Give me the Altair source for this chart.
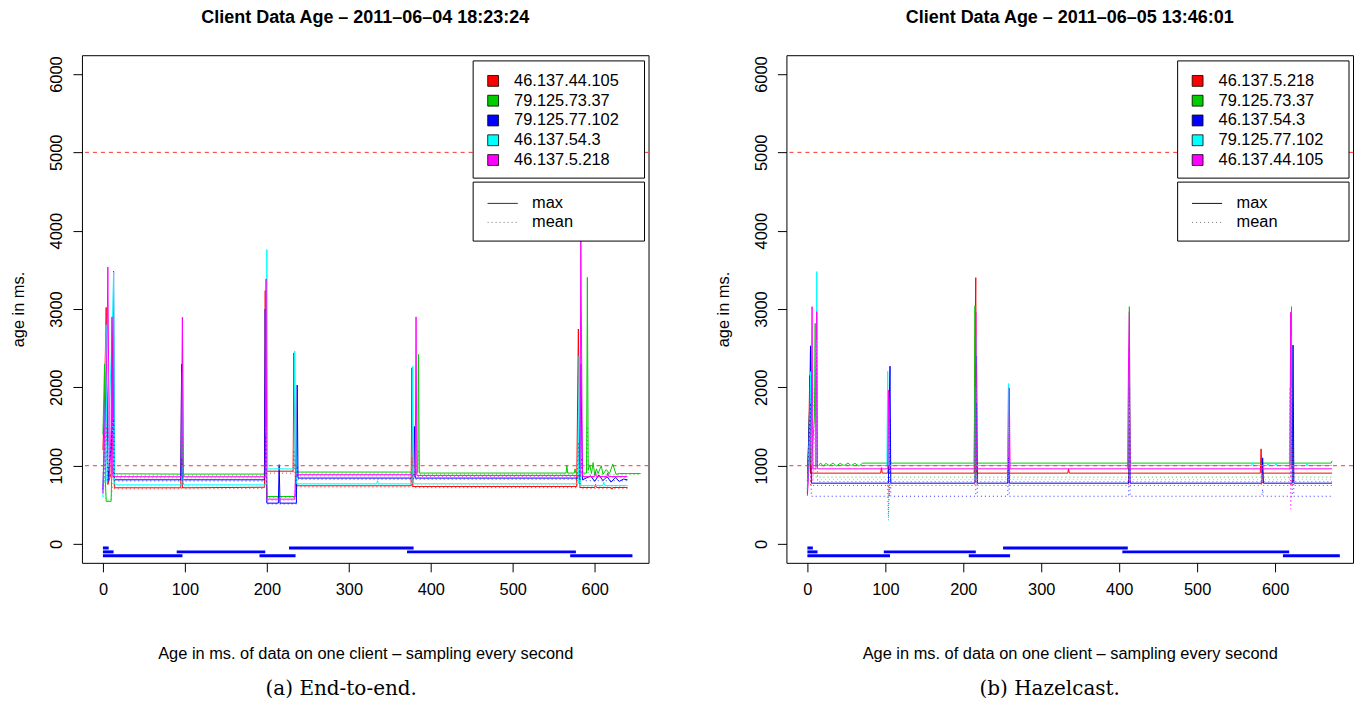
import altair as alt
import pandas as pd

# ---------------------------------------------------------------- text
E2E_TITLE = "Client Data Age – 2011–06–04 18:23:24"
HZ_TITLE = "Client Data Age – 2011–06–05 13:46:01"
X_TITLE = "Age in ms. of data on one client – sampling every second"
Y_TITLE = "age in ms."
E2E_CAPTION = "(a)  End-to-end."
HZ_CAPTION = "(b)  Hazelcast."

COLORS = ["#FF0000", "#00CD00", "#0000FF", "#00FFFF", "#FF00FF"]
KINDS = ["max", "mean"]
KIND_COLORS = ["#000000", "#777777"]
X_TICKS = [0, 100, 200, 300, 400, 500, 600]
Y_TICKS = [0, 1000, 2000, 3000, 4000, 5000, 6000]
LIMITS = [1000, 5000]

# ---------------------------------------------------------------- end-to-end run
E2E_HOSTS = ["46.137.44.105", "79.125.73.37", "79.125.77.102", "46.137.54.3", "46.137.5.218"]

E2E_MAX_X = [
    [0, 2, 4, 6, 10, 12, 14, 95, 96, 97, 197, 198, 199, 232, 233, 235, 376, 377, 378, 578, 580, 582, 600, 601, 602, 620, 621, 622, 640],
    [0, 2, 3, 4, 10, 11, 13, 96, 97, 98, 197, 198, 200, 235, 236, 384, 385, 386, 565, 566, 567, 575, 576, 577, 590, 591, 592, 594, 596, 598, 600, 602, 604, 608, 610, 614, 618, 622, 626, 630, 640, 656],
    [0, 4, 5, 6, 12, 13, 14, 95, 96, 97, 197, 198, 200, 214, 215, 216, 236, 237, 238, 379, 380, 381, 582, 583, 585, 595, 600, 605, 610, 615, 620, 625, 630, 635, 640],
    [0, 3, 4, 5, 12, 13, 14, 96, 97, 98, 199, 200, 201, 233, 234, 236, 334, 335, 336, 377, 378, 379, 580, 581, 583, 610, 611, 612, 640],
    [0, 5, 6, 8, 10, 11, 12, 96, 97, 98, 198, 199, 200, 234, 235, 381, 382, 383, 582, 583, 585, 600, 601, 602, 615, 616, 617, 640],
]
E2E_MAX_Y = [
    [1200, 1900, 3020, 760, 900, 2870, 718, 718, 2210, 718, 725, 3235, 930, 930, 2440, 744, 744, 2250, 735, 735, 2745, 722, 722, 760, 722, 722, 700, 722, 722],
    [1400, 2300, 800, 545, 545, 1000, 897, 893, 2890, 893, 893, 1400, 607, 607, 919, 919, 2420, 906, 906, 1000, 906, 906, 960, 906, 906, 3405, 940, 1010, 900, 1040, 880, 960, 900, 1000, 890, 950, 900, 1020, 890, 900, 900, 900],
    [700, 2200, 1800, 800, 1500, 3480, 820, 820, 2295, 820, 820, 3000, 522, 522, 1013, 522, 522, 2030, 842, 842, 1500, 842, 842, 2300, 820, 870, 800, 880, 810, 860, 790, 850, 800, 830, 820],
    [600, 1800, 2800, 800, 3000, 3470, 756, 756, 2200, 756, 756, 3760, 960, 960, 2465, 769, 769, 810, 769, 769, 2270, 769, 769, 2400, 748, 748, 790, 748, 748],
    [650, 2500, 3535, 860, 1500, 2900, 860, 859, 2893, 859, 859, 3385, 573, 573, 885, 885, 2900, 876, 876, 3897, 863, 863, 920, 863, 863, 910, 863, 863],
]
E2E_MEAN_X = [
    [0, 4, 6, 12, 14, 96, 97, 98, 197, 198, 199, 232, 233, 235, 376, 377, 378, 578, 580, 582, 640],
    [0, 3, 4, 10, 13, 96, 97, 98, 197, 198, 200, 235, 236, 384, 385, 386, 590, 591, 592, 656],
    [0, 5, 6, 13, 14, 95, 96, 97, 197, 198, 200, 236, 237, 238, 379, 380, 381, 583, 584, 586, 640],
    [0, 4, 5, 13, 14, 96, 97, 98, 199, 200, 201, 233, 234, 236, 377, 378, 379, 580, 581, 583, 640],
    [0, 6, 8, 11, 12, 96, 97, 98, 198, 199, 200, 234, 235, 381, 382, 383, 582, 583, 585, 640],
]
E2E_MEAN_Y = [
    [900, 1500, 900, 1300, 705, 705, 1100, 705, 710, 1400, 905, 905, 1200, 730, 730, 1100, 720, 720, 1300, 708, 708],
    [1000, 700, 560, 560, 880, 878, 1300, 878, 878, 1000, 595, 595, 905, 905, 1200, 892, 892, 1500, 885, 885],
    [700, 1200, 800, 1600, 805, 805, 1100, 805, 805, 1400, 512, 512, 1000, 828, 828, 900, 828, 828, 1100, 808, 808],
    [600, 1300, 780, 1600, 742, 742, 1000, 742, 742, 1500, 945, 945, 1200, 755, 755, 1000, 755, 755, 1000, 735, 735],
    [650, 1700, 845, 1400, 845, 845, 1400, 845, 845, 1600, 560, 560, 870, 870, 1400, 862, 862, 1900, 850, 850],
]
E2E_BAR_FROM = [0, 227, 0, 90, 371, 0, 191, 570]
E2E_BAR_TO = [7, 379, 13, 198, 577, 97, 235, 646]
E2E_BAR_AT = [-50, -50, -100, -100, -100, -150, -150, -150]

# ---------------------------------------------------------------- hazelcast run
HZ_HOSTS = ["46.137.5.218", "79.125.73.37", "46.137.54.3", "79.125.77.102", "46.137.44.105"]

HZ_MAX_X = [
    [0, 2, 3, 4, 94, 95, 96, 103, 104, 105, 214, 215, 216, 217, 334, 335, 336, 581, 582, 583, 673],
    [0, 3, 5, 9, 10, 11, 14, 17, 20, 24, 28, 33, 37, 42, 47, 52, 56, 61, 66, 71, 214, 215, 216, 257, 258, 259, 412, 413, 414, 620, 621, 622, 672, 673],
    [0, 3, 4, 5, 104, 105, 106, 107, 215, 216, 217, 218, 257, 258, 259, 412, 413, 414, 583, 584, 585, 622, 623, 624, 673],
    [0, 3, 4, 5, 11, 12, 13, 102, 103, 104, 215, 216, 217, 257, 258, 259, 411, 412, 413, 570, 571, 572, 590, 591, 592, 600, 601, 602, 619, 620, 621, 640, 641, 642, 673],
    [0, 5, 6, 7, 11, 12, 13, 103, 104, 105, 215, 216, 217, 258, 259, 260, 411, 412, 413, 414, 619, 620, 621, 673],
]
HZ_MAX_Y = [
    [650, 1500, 2150, 905, 905, 975, 905, 905, 980, 905, 905, 2600, 3400, 905, 905, 960, 905, 905, 1215, 905, 905],
    [700, 1800, 1000, 1600, 2817, 1000, 1000, 1035, 995, 1030, 1000, 1035, 995, 1030, 1000, 1035, 1000, 1030, 995, 1033, 1033, 3040, 1033, 1033, 2045, 1033, 1033, 3030, 1033, 1033, 3030, 1033, 1033, 1060],
    [800, 1800, 2530, 777, 777, 1800, 2270, 777, 777, 2000, 2400, 777, 777, 1500, 777, 777, 2000, 777, 777, 1100, 777, 777, 2540, 777, 777],
    [700, 1500, 2200, 1003, 1003, 3478, 1003, 1003, 2206, 1003, 1003, 2667, 1003, 1003, 2045, 1003, 1003, 2400, 1003, 1003, 1040, 1003, 1003, 1040, 1003, 1003, 1040, 1003, 1003, 2660, 1003, 1003, 1040, 1003, 1003],
    [620, 1500, 3030, 960, 960, 2966, 960, 960, 1963, 960, 960, 2966, 960, 960, 1994, 960, 960, 2410, 2966, 960, 960, 2958, 960, 960],
]
HZ_MEAN_X = [
    [0, 3, 4, 104, 105, 106, 215, 216, 217, 412, 413, 414, 582, 583, 584, 620, 621, 622, 673],
    [0, 10, 11, 103, 104, 105, 214, 215, 216, 257, 258, 259, 412, 413, 414, 620, 621, 622, 673],
    [0, 4, 5, 105, 106, 107, 216, 217, 218, 257, 258, 259, 412, 413, 414, 583, 584, 585, 622, 623, 624, 673],
    [0, 12, 13, 103, 104, 105, 215, 216, 217, 257, 258, 259, 412, 413, 414, 620, 621, 622, 673],
    [0, 6, 7, 12, 13, 103, 104, 105, 215, 216, 217, 258, 259, 260, 412, 413, 414, 618, 619, 620, 621, 673],
]
HZ_MEAN_Y = [
    [650, 1600, 747, 747, 600, 747, 747, 2300, 747, 747, 1800, 747, 747, 900, 747, 747, 1500, 747, 747],
    [900, 2000, 854, 854, 300, 854, 854, 2400, 854, 854, 1500, 854, 854, 2200, 854, 854, 2200, 854, 854],
    [700, 1800, 610, 610, 1600, 610, 610, 1800, 610, 610, 1100, 610, 610, 1500, 610, 610, 700, 610, 610, 1800, 610, 610],
    [700, 2600, 823, 823, 300, 823, 823, 2000, 823, 823, 1500, 823, 823, 1800, 823, 823, 2000, 823, 823],
    [620, 2200, 798, 2100, 798, 798, 350, 798, 798, 2200, 798, 798, 1400, 798, 798, 2000, 798, 798, 2000, 448, 798, 798],
]
HZ_BAR_FROM = [0, 251, 0, 98, 404, 0, 207, 610]
HZ_BAR_TO = [7, 411, 13, 216, 618, 106, 260, 683]
HZ_BAR_AT = [-50, -50, -100, -100, -100, -150, -150, -150]

# ---------------------------------------------------------------- layout
W, H = 567, 508
Y_DOM = [-240, 6240]
FONT = "Liberation Sans"
TXT = 16.4


def panel(hosts, max_x, max_y, mean_x, mean_y, bar_from, bar_to, bar_at,
          x_dom, title, caption, caption_x):
    rows = []
    for kind, xs_all, ys_all in (("max", max_x, max_y), ("mean", mean_x, mean_y)):
        for host, xs, ys in zip(hosts, xs_all, ys_all):
            for x, y in zip(xs, ys):
                rows.append({"host": host, "kind": kind, "x": x, "y": y})
    lines = pd.DataFrame(rows)

    x_scale = alt.Scale(domain=x_dom, nice=False, zero=False)
    y_scale = alt.Scale(domain=Y_DOM, nice=False, zero=False)
    x_axis = alt.Axis(values=X_TICKS, title=X_TITLE, format="d", labelFlush=False,
                      labelPadding=10, titlePadding=47)
    y_axis = alt.Axis(values=Y_TICKS, title=Y_TITLE, format="d", labelAngle=270,
                      labelAlign="center", labelBaseline="bottom", labelPadding=8,
                      titlePadding=22)

    def X(field):
        return alt.X(field, type="quantitative", scale=x_scale, axis=x_axis)

    def Y(field):
        return alt.Y(field, type="quantitative", scale=y_scale, axis=y_axis)

    color = alt.Color("host:N", scale=alt.Scale(domain=hosts, range=COLORS), legend=None)

    # pixel offsets inside the plot -> data units, for the key boxes
    def dx(px):
        return x_dom[0] + px * (x_dom[1] - x_dom[0]) / W

    def dy(py):
        return Y_DOM[1] - py * (Y_DOM[1] - Y_DOM[0]) / H

    limit_df = pd.DataFrame({"level": LIMITS})
    limits = alt.Chart(limit_df).mark_rule(
        color="#FF3030", strokeWidth=1, strokeDash=[4, 4]
    ).encode(y=Y("level"))

    max_lines = alt.Chart(lines).transform_filter(alt.datum.kind == "max").mark_line(
        strokeWidth=1, clip=True
    ).encode(x=X("x"), y=Y("y"), color=color, detail="host:N")

    mean_lines = alt.Chart(lines).transform_filter(alt.datum.kind == "mean").mark_line(
        strokeWidth=1, strokeDash=[1, 3], opacity=0.8, clip=True
    ).encode(x=X("x"), y=Y("y"), color=color, detail="host:N")

    bar_df = pd.DataFrame({"x0": bar_from, "x1": bar_to, "at": bar_at})
    bars = alt.Chart(bar_df).mark_rule(color="#0000FF", strokeWidth=3).encode(
        x=X("x0"), x2="x1", y=Y("at")
    )

    # key boxes
    box_df = pd.DataFrame({
        "x0": [dx(391.5), dx(391.5)], "x1": [dx(563), dx(563)],
        "y0": [dy(5.7), dy(127)], "y1": [dy(123), dy(186)],
    })
    boxes = alt.Chart(box_df).mark_rect(fill="white", stroke="black", strokeWidth=1).encode(
        x=X("x0"), x2="x1", y=Y("y0"), y2="y1"
    )
    key_df = pd.DataFrame({
        "host": hosts,
        "sx": [dx(411.5)] * len(hosts),
        "tx": [dx(432.5)] * len(hosts),
        "ky": [dy(25.7 + 19.8 * i) for i in range(len(hosts))],
    })
    squares = alt.Chart(key_df).mark_square(
        size=118, stroke="black", strokeWidth=0.8, opacity=1, filled=True
    ).encode(x=X("sx"), y=Y("ky"), color=color)
    host_labels = alt.Chart(key_df).mark_text(
        align="left", baseline="middle", fontSize=TXT, font=FONT, color="black"
    ).encode(x=X("tx"), y=Y("ky"), text="host:N")

    kind_df = pd.DataFrame({
        "kind": KINDS,
        "x0": [dx(406)] * 2, "x1": [dx(436)] * 2, "tx": [dx(450.5)] * 2,
        "ky": [dy(148.3), dy(167.3)],
    })
    dash = alt.StrokeDash("kind:N", scale=alt.Scale(domain=KINDS, range=[[1, 0], [1, 3]]), legend=None)
    kind_lines = [
        alt.Chart(kind_df).transform_filter(alt.datum.kind == k).mark_rule(
            strokeWidth=1, color=c
        ).encode(x=X("x0"), x2="x1", y=Y("ky"), strokeDash=dash)
        for k, c in zip(KINDS, KIND_COLORS)
    ]
    kind_labels = alt.Chart(kind_df).mark_text(
        align="left", baseline="middle", fontSize=TXT, font=FONT, color="black"
    ).encode(x=X("tx"), y=Y("ky"), text="kind:N")

    cap = alt.Chart(pd.DataFrame({"t": [caption]})).mark_text(
        font="DejaVu Serif", fontSize=20, color="black", align="center", baseline="middle"
    ).encode(text="t:N", x=alt.value(caption_x), y=alt.value(634))

    return alt.layer(
        max_lines, mean_lines, limits, bars, boxes, squares, host_labels,
        *kind_lines, kind_labels, cap
    ).properties(
        width=W, height=H,
        title=alt.TitleParams(text=title, fontSize=18, fontWeight="bold", font=FONT,
                              anchor="middle", offset=28, color="black"),
    )


left = panel(E2E_HOSTS, E2E_MAX_X, E2E_MAX_Y, E2E_MEAN_X, E2E_MEAN_Y,
             E2E_BAR_FROM, E2E_BAR_TO, E2E_BAR_AT, [-25.6, 665.6],
             E2E_TITLE, E2E_CAPTION, 259.5)
right = panel(HZ_HOSTS, HZ_MAX_X, HZ_MAX_Y, HZ_MEAN_X, HZ_MEAN_Y,
              HZ_BAR_FROM, HZ_BAR_TO, HZ_BAR_AT, [-26.9, 699.9],
              HZ_TITLE, HZ_CAPTION, 263.5)

chart = alt.hconcat(left, right, spacing=138, bounds="flush").resolve_scale(
    color="independent", strokeDash="independent"
).properties(
    padding={"left": 10, "top": 8, "right": 0, "bottom": 0}
).configure(font=FONT).configure_view(
    stroke="black", strokeWidth=1
).configure_axis(
    domain=False, grid=False, ticks=True, tickSize=9, tickColor="black", tickWidth=1,
    labelFontSize=TXT, labelColor="black", labelFont=FONT,
    titleFontSize=TXT, titleFontWeight="normal", titleColor="black", titleFont=FONT,
)

chart.save("out.html", embed_options={"renderer": "svg", "actions": False})
